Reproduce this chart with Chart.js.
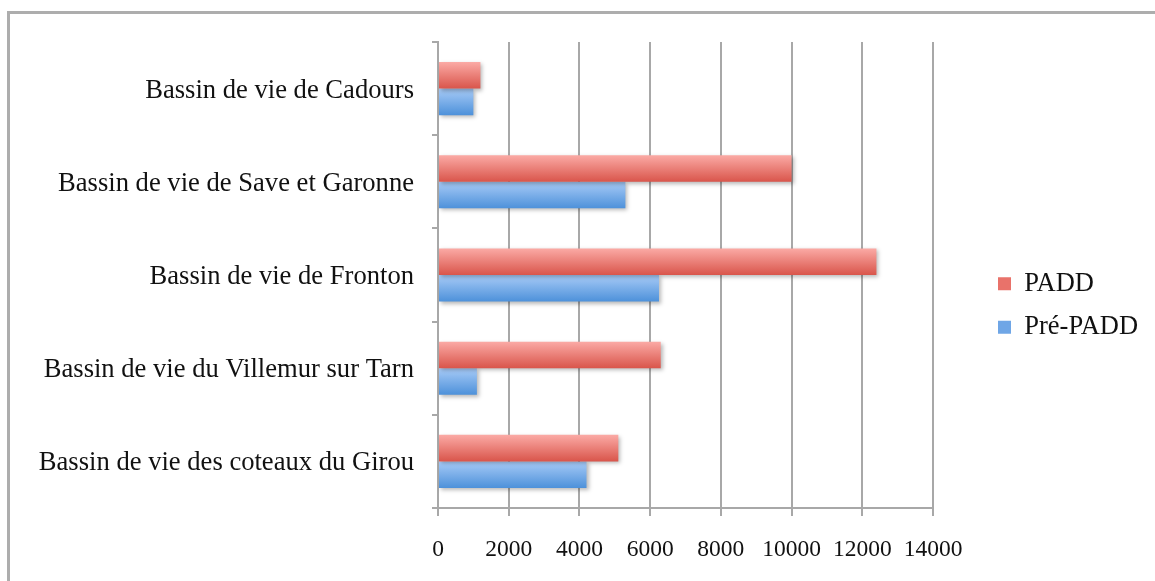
<!DOCTYPE html>
<html>
<head>
<meta charset="utf-8">
<script src="https://cdn.jsdelivr.net/npm/chart.js@4"></script>
<style>
    html, body { margin: 0; padding: 0; background: #fff; }
    #wrap  { position: relative; width: 1155px; height: 581px; overflow: hidden; }
    #frame { position: absolute; left: 7px; top: 11px; right: -10px; bottom: -10px;
             border-top: 3px solid #adadad; border-left: 3px solid #adadad; }
    #chart { position: absolute; left: 0; top: 0; }
</style>
</head>
<body>
<div id="wrap">
    <div id="frame"></div>
    <canvas id="chart" width="1155" height="581"></canvas>
</div>
<script>
// ── Data ──
const categories = [
    'Bassin de vie de Cadours',
    'Bassin de vie de Save et Garonne',
    'Bassin de vie de Fronton',
    'Bassin de vie du Villemur sur Tarn',
    'Bassin de vie des coteaux du Girou',
];
const seriesNames = ['PADD', 'Pré-PADD'];
const paddValues    = [1200, 10000, 12400, 6300, 5100];
const prePaddValues = [1000, 5300, 6250, 1100, 4200];
const xTicks = [0, 2000, 4000, 6000, 8000, 10000, 12000, 14000];

// ── Look ──
const SERIF = '"Liberation Serif", "DejaVu Serif", serif';
const GRID  = '#a8a8a8';
const CAT_PCT = 0.57;
const PALETTE = [
    { top: '#fbaaa5', bottom: '#d9554b', mid: '#e9726a' },
    { top: '#a8cbf7', bottom: '#4d91da', mid: '#6fa6e6' },
];

// gradient per bar, computed from the category scale
function barFill(ctx) {
    const chart = ctx.chart;
    const pal = PALETTE[ctx.datasetIndex];
    const y = chart.scales.y;
    if (!y || ctx.dataIndex === undefined) return pal.mid;
    const center = y.getPixelForValue(ctx.dataIndex);
    const band = Math.abs(y.getPixelForValue(1) - y.getPixelForValue(0));
    if (!isFinite(center) || !isFinite(band) || band === 0) return pal.mid;
    const h = band * CAT_PCT / 2;
    const top = ctx.datasetIndex === 0 ? center - h : center;
    const g = chart.ctx.createLinearGradient(0, top, 0, top + h);
    g.addColorStop(0, pal.top);
    g.addColorStop(1, pal.bottom);
    return g;
}

// drop shadow under the bars + legend placement tweak
const chartTweaks = {
    id: 'chartTweaks',
    afterInit(chart) {
        const lg = chart.legend;
        if (!lg) return;
        const fit = lg.fit;
        lg.fit = function () {
            fit.call(this);
            this.width = 1155 - 933;
        };
    },
    afterLayout(chart) {
        const lg = chart.legend;
        if (!lg) return;
        lg.left += 48; lg.right += 48;
        lg.top -= 6;  lg.bottom -= 6;
    },
    beforeDatasetsDraw(chart) {
        const c = chart.ctx;
        c.save();
        c.shadowColor = 'rgba(0,0,0,0.28)';
        c.shadowBlur = 4;
        c.shadowOffsetX = 2;
        c.shadowOffsetY = 2;
    },
    afterDatasetsDraw(chart) {
        chart.ctx.restore();
    },
};

new Chart(document.getElementById('chart'), {
    type: 'bar',
    data: {
        labels: categories,
        datasets: [
            { label: seriesNames[0], data: paddValues,    backgroundColor: barFill },
            { label: seriesNames[1], data: prePaddValues, backgroundColor: barFill },
        ],
    },
    options: {
        indexAxis: 'y',
        responsive: false,
        animation: false,
        layout: { padding: { top: 42, left: 0, right: 0, bottom: 0 } },
        datasets: { bar: { categoryPercentage: CAT_PCT, barPercentage: 1 } },
        plugins: {
            tooltip: { enabled: false },
            legend: {
                position: 'right',
                labels: {
                    boxWidth: 13,
                    boxHeight: 13,
                    padding: 17,
                    color: '#111',
                    font: { family: SERIF, size: 26.5 },
                    generateLabels: (chart) =>
                        Chart.defaults.plugins.legend.labels.generateLabels(chart).map((it, i) => ({
                            ...it, fillStyle: PALETTE[i].mid, strokeStyle: PALETTE[i].mid, lineWidth: 0,
                        })),
                },
            },
        },
        scales: {
            x: {
                min: 0,
                max: 14000,
                afterBuildTicks: (s) => { s.ticks = xTicks.map(v => ({ value: v })); },
                afterFit: (s) => { s.height = 581 - 508; },
                grid:   { color: GRID, lineWidth: 2, tickLength: 8 },
                border: { color: GRID, width: 2 },
                ticks:  {
                    color: '#111', padding: 20, maxRotation: 0,
                    font: { family: SERIF, size: 23.5 },
                    callback: (v) => String(v),
                },
            },
            y: {
                afterFit: (s) => { s.width = 438; },
                grid:   { color: GRID, lineWidth: 2, tickLength: 6, drawOnChartArea: false, offset: true },
                border: { color: GRID, width: 2 },
                ticks:  { color: '#111', padding: 18, labelOffset: 2, font: { family: SERIF, size: 26.6 } },
            },
        },
    },
    plugins: [chartTweaks],
});
</script>
</body>
</html>
